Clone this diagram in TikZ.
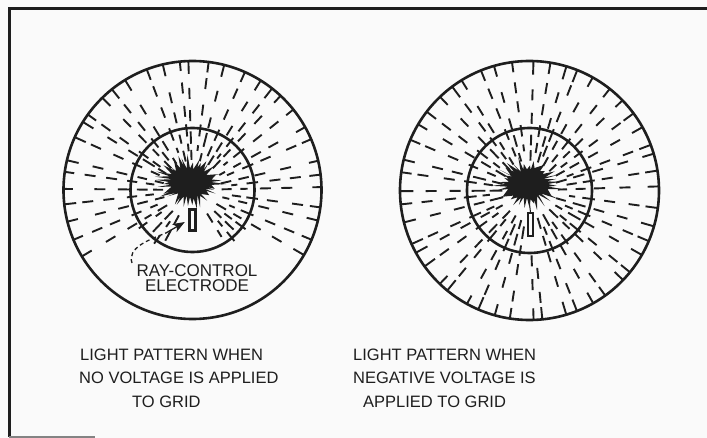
\documentclass[tikz,border=0pt]{standalone}
\usepackage{fontspec}
\setmainfont{Liberation Sans}
\usetikzlibrary{arrows.meta}
\definecolor{ink}{RGB}{30,30,30}
\definecolor{paper}{RGB}{250,250,250}
\begin{document}
\begin{tikzpicture}[x=1pt,y=-1pt,
  ring/.style={circle, draw=ink, line width=2.6pt, inner sep=0pt},
  ray/.style={draw=ink, line width=1.9pt},
  electrodebox/.style={draw=ink, fill=paper, inner sep=0pt},
  caption/.style={anchor=base west, inner sep=0pt, text=ink, font=\fontsize{16.5}{18}\selectfont},
  tag/.style={inner sep=0pt, text=ink, align=center, font=\fontsize{17}{15.5}\selectfont}]
\pgfmathsetseed{12}
\fill[paper] (0,0) rectangle (707,438);
\useasboundingbox (0,0) rectangle (707,438);

% frame
\draw[ink, line width=3pt] (707,8.5) -- (9,8.5) -- (9,437);
\draw[ink!55, line width=1.5pt] (9,437) -- (95,437);

% radial light rays: centre, outer shadow sector, inner shadow sector
\foreach \cx/\cy/\olo/\ohi/\ilo/\ihi in {192.5/190/35/145/62/118, 529.5/190.5/0/0/84/96} {
  \foreach \i in {0,...,47} {
    \pgfmathsetmacro\a{\i*7.5+2*rand}
    \pgfmathsetmacro\o{mod(\i,2)*10}
    \pgfmathtruncatemacro\outskip{(\a>\olo)*(\a<\ohi)}
    \pgfmathtruncatemacro\inskip{(\a>\ilo)*(\a<\ihi)}
    \ifnum\outskip=0
      \foreach \r in {66,90} {
        \pgfmathsetmacro\rs{\r+\o+3*rand}
        \pgfmathsetmacro\re{\rs+11}
        \draw[ray, shift={(\cx,\cy)}] (\a:\rs) -- (\a:\re);
      }
      \pgfmathsetmacro\rs{118+2*rand}
      \draw[ray, shift={(\cx,\cy)}] (\a:\rs) -- (\a:129.5);
    \fi
    \ifnum\inskip=0
      \ifodd\i
        \pgfmathsetmacro\ra{38+2*rand}
        \pgfmathsetmacro\rb{47+2*rand}
        \pgfmathsetmacro\rc{54+2*rand}
        \draw[ray, shift={(\cx,\cy)}] (\a:\ra) -- (\a:\rb);
        \draw[ray, shift={(\cx,\cy)}] (\a:\rc) -- (\a:66);
      \else
        \pgfmathsetmacro\ra{29+2*rand}
        \pgfmathsetmacro\rb{39+2*rand}
        \pgfmathsetmacro\rc{46+2*rand}
        \pgfmathsetmacro\rd{57+2*rand}
        \draw[ray, shift={(\cx,\cy)}] (\a:\ra) -- (\a:\rb);
        \draw[ray, shift={(\cx,\cy)}] (\a:\rc) -- (\a:\rd);
      \fi
    \fi
  }
}

% screen circles
\node[ring, minimum size=258pt] (outerL) at (192.5,190) {};
\node[ring, minimum size=124pt] (innerL) at (192.5,190) {};
\node[ring, minimum size=259pt] (outerR) at (529.5,190.5) {};
\node[ring, minimum size=125pt] (innerR) at (529.5,190.5) {};

% glowing cathode spots
\fill[ink, shift={(190,182)}, xscale=1.3] (0:16)
  \foreach \k in {1,...,71} { -- ({\k*5}:{ifthenelse(isodd(\k),18+11*rnd,13+4*rnd)}) } -- cycle;
\fill[ink, shift={(527,184)}, xscale=1.3] (0:16)
  \foreach \k in {1,...,71} { -- ({\k*5}:{ifthenelse(isodd(\k),18+11*rnd,13+4*rnd)}) } -- cycle;

% ray-control electrodes
\node[electrodebox, line width=3pt, minimum width=5.5pt, minimum height=21pt] (elecL) at (192.5,220) {};
\node[electrodebox, line width=1.8pt, minimum width=5pt, minimum height=23pt] (elecR) at (530.5,224.5) {};
\draw[ink, line width=1pt] (529,200) -- (elecR.north);

% electrode label and pointer
\node[tag, anchor=north] (rayctl) at (197,264) {RAY-CONTROL\\ELECTRODE};
\coordinate (tail) at (132,263);
\coordinate (bend) at (166,233);
\draw[ink, line width=1.3pt, dash pattern=on 4pt off 3pt]
  (tail) .. controls (127,248) and (148,240) .. (bend);
\draw[ink, line width=1.3pt, -{Stealth[length=12pt,width=9pt,inset=3pt]}, shorten >=4pt]
  (bend) -- (elecL.west);

% captions
\node[caption] (capL1) at (80,360) {LIGHT PATTERN WHEN};
\node[caption] (capL2) at (79,383.5) {NO VOLTAGE IS APPLIED};
\node[caption] (capL3) at (132,407) {TO GRID};
\node[caption] (capR1) at (353,360) {LIGHT PATTERN WHEN};
\node[caption] (capR2) at (353,383.5) {NEGATIVE VOLTAGE IS};
\node[caption] (capR3) at (363,407) {APPLIED TO GRID};
\end{tikzpicture}
\end{document}
